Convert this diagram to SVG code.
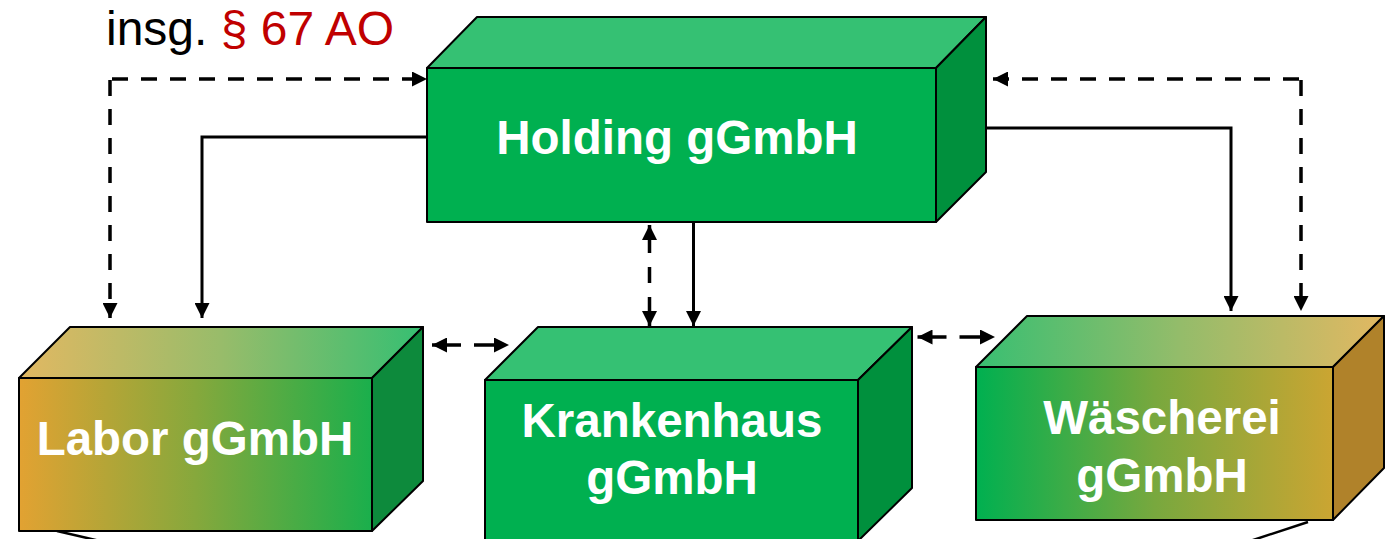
<svg xmlns="http://www.w3.org/2000/svg" width="1391" height="539" viewBox="0 0 1391 539">
<defs>
<style>
.face{stroke:#000;stroke-width:2;stroke-linejoin:round}
.lbl{font-family:"Liberation Sans",Arial,sans-serif;font-weight:bold;font-size:47.5px;fill:#fff;text-anchor:middle}
.title{font-family:"Liberation Sans",Arial,sans-serif;font-size:48px}
.solid{fill:none;stroke:#000;stroke-width:3}
.dash{fill:none;stroke:#000;stroke-width:3.5;stroke-dasharray:16 13}
</style>
<marker id="ah" viewBox="0 0 10 10" refX="10" refY="5" markerUnits="userSpaceOnUse" markerWidth="15" markerHeight="15" orient="auto-start-reverse">
<path d="M0,0 L10,5 L0,10 z" fill="#000"/>
</marker>
<linearGradient id="labFront" x1="0" x2="1" y1="0" y2="0">
<stop offset="0" stop-color="#E2A232"/><stop offset="0.5" stop-color="#86A83C"/><stop offset="1" stop-color="#1AAF4C"/>
</linearGradient>
<linearGradient id="labTop" x1="0" x2="1" y1="0" y2="0">
<stop offset="0" stop-color="#E2B862"/><stop offset="0.5" stop-color="#98BC6A"/><stop offset="1" stop-color="#36BF72"/>
</linearGradient>
<linearGradient id="wasFront" x1="0" x2="1" y1="0" y2="0">
<stop offset="0" stop-color="#00B050"/><stop offset="0.5" stop-color="#78A83E"/><stop offset="1" stop-color="#CBA532"/>
</linearGradient>
<linearGradient id="wasTop" x1="0" x2="1" y1="0" y2="0">
<stop offset="0" stop-color="#38BF72"/><stop offset="0.5" stop-color="#94BC6A"/><stop offset="1" stop-color="#E2B862"/>
</linearGradient>
</defs>
<rect width="1391" height="539" fill="#fff"/>

<text class="title" x="106" y="45"><tspan fill="#000">insg. </tspan><tspan fill="#C00000">§ 67 AO</tspan></text>

<g id="connectors">
<path class="solid" d="M427,137 H202 V318" marker-end="url(#ah)"/>
<path class="solid" d="M986,128 H1231 V311" marker-end="url(#ah)"/>
<path class="solid" d="M693.5,222 V326" marker-end="url(#ah)"/>
<path class="dash" d="M110,80 V318" marker-end="url(#ah)"/>
<path class="dash" d="M112,79 H427" marker-end="url(#ah)"/>
<path class="dash" d="M1301,80 V311" marker-end="url(#ah)"/>
<path class="dash" d="M1299,79 H993" marker-end="url(#ah)"/>
<path class="dash" d="M649.5,225 V326" style="stroke-dasharray:28 14 16 14 40" marker-start="url(#ah)" marker-end="url(#ah)"/>
<path class="dash" d="M432,345 H509" style="stroke-dasharray:29 13" marker-start="url(#ah)" marker-end="url(#ah)"/>
<path class="dash" d="M917.5,337 H995" style="stroke-dasharray:29 13" marker-start="url(#ah)" marker-end="url(#ah)"/>
<path class="solid" d="M57,531 L100,541" style="stroke-width:2.5"/>
<path class="solid" d="M1308,522 L1250,541" style="stroke-width:2.5"/>
</g>

<g id="holding">
<polygon class="face" points="427,68 477,17 986,17 936,68" fill="#35C173"/>
<polygon class="face" points="936,68 986,17 986,172 936,222" fill="#00903D"/>
<rect class="face" x="427" y="68" width="509" height="154" fill="#00B050"/>
<text class="lbl" x="677" y="154">Holding gGmbH</text>
</g>

<g id="labor">
<polygon class="face" points="19,378 70,327 423,327 372,378" fill="url(#labTop)"/>
<polygon class="face" points="372,378 423,327 423,481 372,531" fill="#0D8A3C"/>
<rect class="face" x="19" y="378" width="353" height="153" fill="url(#labFront)"/>
<text class="lbl" x="195" y="455">Labor gGmbH</text>
</g>

<g id="krankenhaus">
<polygon class="face" points="485,380 538,327 912,327 858,380" fill="#35C173"/>
<polygon class="face" points="858,380 912,327 912,488 858,541" fill="#00903D"/>
<rect class="face" x="485" y="380" width="373" height="170" fill="#00B050"/>
<text class="lbl" x="672" y="437">Krankenhaus</text>
<text class="lbl" x="672" y="494">gGmbH</text>
</g>

<g id="waescherei">
<polygon class="face" points="976,367 1027,316 1384,316 1333,367" fill="url(#wasTop)"/>
<polygon class="face" points="1333,367 1384,316 1384,468 1333,520" fill="#B0822A"/>
<rect class="face" x="976" y="367" width="357" height="153" fill="url(#wasFront)"/>
<text class="lbl" x="1162" y="434">Wäscherei</text>
<text class="lbl" x="1162" y="492">gGmbH</text>
</g>
</svg>
